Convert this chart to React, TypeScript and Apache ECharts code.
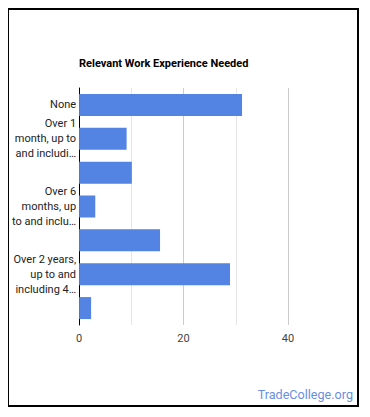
import React, { useEffect, useRef } from "react";
import * as echarts from "echarts";

const title = "Relevant Work Experience Needed";
const categories = [
  "None",
  "Over 1 month, up to and including 3 months",
  "Over 3 months, up to and including 6 months",
  "Over 6 months, up to and including 1 year",
  "Over 1 year, up to and including 2 years",
  "Over 2 years, up to and including 4 years",
  "Over 4 years, up to and including 6 years",
];
const displayLabels = [
  "None",
  "Over 1\nmonth, up to\nand includi…",
  "",
  "Over 6\nmonths, up\nto and inclu…",
  "",
  "Over 2 years,\nup to and\nincluding 4…",
  "",
];
const values = [31.2, 9.1, 10.1, 3.1, 15.5, 28.9, 2.3];
const xTickLabels = ["0", "", "20", "", "40"];
const watermark = "TradeCollege.org";

export default function App() {
  const ref = useRef<HTMLDivElement>(null);
  useEffect(() => {
    if (!ref.current) return;
    const chart = echarts.init(ref.current, null, { renderer: "svg" });
    chart.setOption({
      animation: false,
      textStyle: { fontFamily: "Roboto" },
      title: {
        text: title,
        left: 70,
        top: 48,
        padding: 0,
        textStyle: { fontSize: 11, fontWeight: "bold", color: "#000", fontFamily: "Roboto" },
      },
      grid: { left: 70, top: 78, width: 209, height: 237, containLabel: false },
      xAxis: {
        type: "value",
        min: 0,
        max: 40,
        interval: 10,
        axisLine: { show: false },
        axisTick: { show: false },
        axisLabel: {
          color: "#444",
          fontSize: 11,
          margin: 8,
          formatter: (v: number) => xTickLabels[Math.round(v / 10)] ?? "",
        },
        splitLine: { lineStyle: { color: ["#cccccc", "#e6e6e6"], width: 1 } },
      },
      yAxis: {
        type: "category",
        inverse: true,
        data: categories,
        axisLine: { show: true, lineStyle: { color: "#000", width: 1 } },
        axisTick: { show: false },
        axisLabel: {
          interval: 0,
          color: "#222",
          fontSize: 11,
          lineHeight: 15,
          margin: 3,
          formatter: (_v: string, i: number) => displayLabels[i],
        },
      },
      series: [
        {
          type: "bar",
          data: values,
          barWidth: 22,
          itemStyle: { color: "#5383e3" },
        },
      ],
      graphic: [
        {
          type: "text",
          right: 4,
          top: 378,
          style: { text: watermark, fill: "#6a8fdf", fontSize: 12.6, fontFamily: "Roboto" },
        },
      ],
    });
    return () => chart.dispose();
  }, []);
  return (
    <div
      style={{
        width: 352,
        height: 399,
        border: "2px solid #000",
        boxSizing: "border-box",
        marginLeft: -1,
      }}
    >
      <div ref={ref} style={{ width: 348, height: 395 }} />
    </div>
  );
}
